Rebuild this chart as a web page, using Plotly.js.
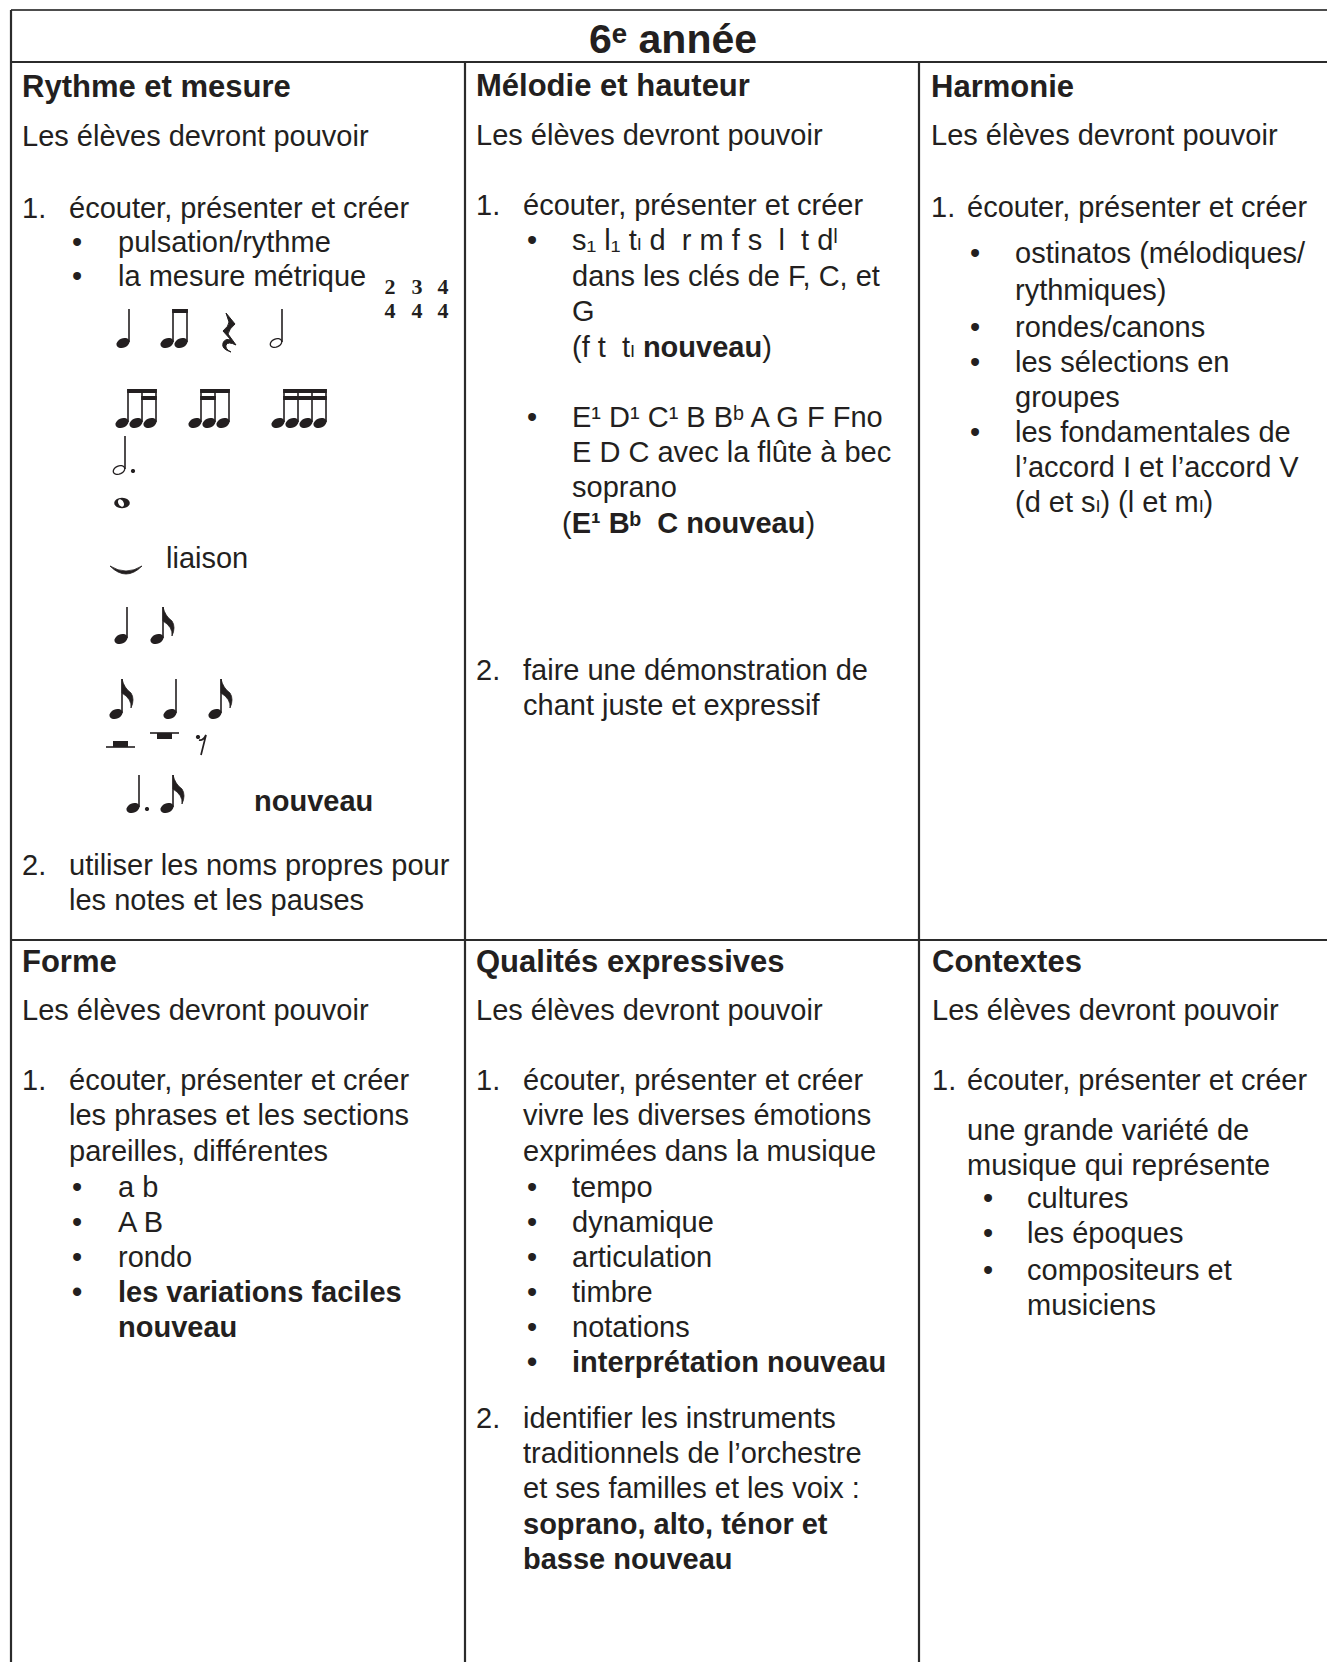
<!DOCTYPE html>
<html><head><meta charset="utf-8">
<script src="https://cdn.plot.ly/plotly-3.0.1.min.js"></script>
<style>html,body{margin:0;padding:0;background:#fff}</style>
</head><body>
<div id="chart" style="width:1327px;height:1662px"></div>
<script>
// ================= DATA (text content) =================
const pageTitle = "6ᵉ année";
const cellHeadings = ["Rythme et mesure", "Mélodie et hauteur", "Harmonie", "Forme", "Qualités expressives", "Contextes"];
const introLine = "Les élèves devront pouvoir";

// Rythme et mesure
const rmMarks = ["1.", "•", "•", "", "", "2.", ""];
const rmTexts = ["écouter, présenter et créer", "pulsation/rythme", "la mesure métrique", "liaison", "<b>nouveau</b>", "utiliser les noms propres pour", "les notes et les pauses"];
const timeSigTop = ["2", "3", "4"];
const timeSigBottom = ["4", "4", "4"];
// rhythm symbols (drawn as notation glyphs)
const rhythmRows = [
  ["noire", "2 croches", "soupir", "blanche"],
  ["croche + 2 doubles", "2 doubles + croche", "4 doubles"],
  ["blanche pointée"],
  ["ronde"],
  ["liaison"],
  ["noire", "croche"],
  ["croche", "noire", "croche"],
  ["demi-pause", "pause", "demi-soupir"],
  ["noire pointée", "croche"]
];

// Mélodie et hauteur
const mhMarks = ["1.", "•", "", "", "", "•", "", "", "", "2.", ""];
const mhTexts = [
  "écouter, présenter et créer",
  "s₁ l₁ tₗ d\u00a0\u00a0r m f s\u00a0\u00a0l\u00a0\u00a0t dˡ",
  "dans les clés de F, C, et",
  "G",
  "(f t\u00a0\u00a0tₗ <b>nouveau</b>)",
  "E¹ D¹ C¹ B Bᵇ A G F Fno",
  "E D C avec la flûte à bec",
  "soprano",
  "(<b>E¹ Bᵇ\u00a0\u00a0C nouveau</b>)",
  "faire une démonstration de",
  "chant juste et expressif"
];

// Harmonie
const haMarks = ["1.", "•", "", "•", "•", "", "•", "", ""];
const haTexts = ["écouter, présenter et créer", "ostinatos (mélodiques/", "rythmiques)", "rondes/canons", "les sélections en", "groupes", "les fondamentales de", "l’accord I et l’accord V", "(d et sₗ) (l et mₗ)"];

// Forme
const foMarks = ["1.", "", "", "•", "•", "•", "<b>•</b>", ""];
const foTexts = ["écouter, présenter et créer", "les phrases et les sections", "pareilles, différentes", "a b", "A B", "rondo", "<b>les variations faciles</b>", "<b>nouveau</b>"];

// Qualités expressives
const qeMarks = ["1.", "", "", "•", "•", "•", "•", "•", "<b>•</b>", "2.", "", "", "", ""];
const qeTexts = ["écouter, présenter et créer", "vivre les diverses émotions", "exprimées dans la musique", "tempo", "dynamique", "articulation", "timbre", "notations", "<b>interprétation nouveau</b>", "identifier les instruments", "traditionnels de l’orchestre", "et ses familles et les voix :", "<b>soprano, alto, ténor et</b>", "<b>basse nouveau</b>"];

// Contextes
const coMarks = ["1.", "", "", "•", "•", "•", ""];
const coTexts = ["écouter, présenter et créer", "une grande variété de", "musique qui représente", "cultures", "les époques", "compositeurs et", "musiciens"];

// ================= LAYOUT (positions, sizes, styles) =================
const W = 1327, H = 1662;
const INK = "#231f20";
const RULE = "#2b2b2b";
const SANS = "'Liberation Sans', Arial, Helvetica, 'DejaVu Sans', sans-serif";
const SERIF = "'Liberation Serif', 'Times New Roman', serif";
const BODY = 29, HEAD = 31, TITLE = 41, SIG = 22;
const MID = 0.25; // baseline offset (em) of 'middle' text position

const gridX = [11, 465, 919];
const gridY = {top: 10, titleBottom: 62, rowDivider: 940};

const headX = [22, 476, 931, 22, 476, 932];
const headBase = [97, 96, 97, 972, 972, 972];
const introBase = [146, 145, 145, 1020, 1020, 1020];

const rmMarkX = [22, 72, 72, 0, 0, 22, 0];
const rmTextX = [69, 118, 118, 166, 254, 69, 69];
const rmBase = [218, 252, 286, 568, 811, 875, 910];

const mhMarkX = [476, 527, 0, 0, 0, 527, 0, 0, 0, 476, 0];
const mhTextX = [523, 572, 572, 572, 572, 572, 572, 572, 562, 523, 523];
const mhBase = [215, 250, 286, 321, 357, 427, 462, 497, 533, 680, 715];

const haMarkX = [931, 970, 0, 970, 970, 0, 970, 0, 0];
const haTextX = [967, 1015, 1015, 1015, 1015, 1015, 1015, 1015, 1015];
const haBase = [217, 263, 300, 337, 372, 407, 442, 477, 512];

const foMarkX = [22, 0, 0, 72, 72, 72, 72, 0];
const foTextX = [69, 69, 69, 118, 118, 118, 118, 118];
const foBase = [1090, 1125, 1161, 1197, 1232, 1267, 1302, 1337];

const qeMarkX = [476, 0, 0, 527, 527, 527, 527, 527, 527, 476, 0, 0, 0, 0];
const qeTextX = [523, 523, 523, 572, 572, 572, 572, 572, 572, 523, 523, 523, 523, 523];
const qeBase = [1090, 1125, 1161, 1197, 1232, 1267, 1302, 1337, 1372, 1428, 1463, 1498, 1534, 1569];

const coMarkX = [932, 0, 0, 983, 983, 983, 0];
const coTextX = [967, 967, 967, 1027, 1027, 1027, 1027];
const coBase = [1090, 1140, 1175, 1208, 1243, 1280, 1315];

const sigX = [390, 417, 443];
const sigBase = [294, 318];

// ---------- text traces ----------
const plain = {x: [], y: [], text: []};
const bold = {x: [], y: [], text: []};
const fullBold = /^<b>([^<]*)<\/b>$/;
function put(t, x, base) {
  const m = t.match(fullBold);
  const tgt = m ? bold : plain;
  tgt.x.push(x); tgt.y.push(base - MID * BODY); tgt.text.push(m ? m[1] : t);
}
function addCell(marks, texts, markX, textX, base) {
  texts.forEach((t, i) => {
    put(t, textX[i], base[i]);
    if (marks[i]) put(marks[i], markX[i], base[i]);
  });
}
addCell(rmMarks, rmTexts, rmMarkX, rmTextX, rmBase);
addCell(mhMarks, mhTexts, mhMarkX, mhTextX, mhBase);
addCell(haMarks, haTexts, haMarkX, haTextX, haBase);
addCell(foMarks, foTexts, foMarkX, foTextX, foBase);
addCell(qeMarks, qeTexts, qeMarkX, qeTextX, qeBase);
addCell(coMarks, coTexts, coMarkX, coTextX, coBase);
cellHeadings.forEach((h, i) => put(introLine, headX[i], introBase[i]));

const common = {type: 'scatter', mode: 'text', hoverinfo: 'skip', cliponaxis: false};
const traces = [
  Object.assign({}, common, {x: plain.x, y: plain.y, text: plain.text, textposition: 'middle right',
   textfont: {family: SANS, size: BODY, color: INK}}),
  Object.assign({}, common, {x: bold.x, y: bold.y, text: bold.text, textposition: 'middle right',
   textfont: {family: SANS, size: BODY, color: INK, weight: 700}}),
  Object.assign({}, common, {x: headX, y: headBase.map(b => b - MID * HEAD), text: cellHeadings,
   textposition: 'middle right', textfont: {family: SANS, size: HEAD, color: INK, weight: 700}}),
  Object.assign({}, common, {x: [(gridX[0] + W) / 2 + 4], y: [53 - MID * TITLE], text: [pageTitle],
   textposition: 'middle center', textfont: {family: SANS, size: TITLE, color: INK, weight: 700}}),
  Object.assign({}, common, {x: sigX.concat(sigX),
   y: sigX.map(() => sigBase[0] - MID * SIG).concat(sigX.map(() => sigBase[1] - MID * SIG)),
   text: timeSigTop.concat(timeSigBottom), textposition: 'middle center',
   textfont: {family: SERIF, size: SIG, color: INK, weight: 700}})
];

// ---------- shapes: table rules ----------
const shapes = [];
function rule(x0, y0, x1, y1, w, c) {
  shapes.push({type: 'line', xref: 'x', yref: 'y', x0, y0, x1, y1, line: {color: c || RULE, width: w || 2}, layer: 'above'});
}
rule(gridX[0], gridY.top, W, gridY.top, 2, "#4d4d4d");
rule(gridX[0], gridY.titleBottom, W, gridY.titleBottom, 2.2);
rule(gridX[0], gridY.rowDivider, W, gridY.rowDivider, 2.2);
rule(gridX[0], gridY.top, gridX[0], H, 2.2);
rule(gridX[1], gridY.titleBottom, gridX[1], H, 2.2);
rule(gridX[2], gridY.titleBottom, gridX[2], H, 2.2);

// ---------- shapes: music notation glyphs ----------
function ink(x0, y0, x1, y1, w) {
  shapes.push({type: 'line', xref: 'x', yref: 'y', x0, y0, x1, y1, line: {color: INK, width: w}});
}
function path(d, fill, w) {
  shapes.push({type: 'path', xref: 'x', yref: 'y', path: d, fillcolor: fill, line: {color: INK, width: w || 0}});
}
function ellipseD(cx, cy, rx, ry, deg) {
  const a = deg * Math.PI / 180; let d = "";
  for (let k = 0; k < 24; k++) {
    const t = k / 24 * 2 * Math.PI;
    const px = cx + rx * Math.cos(t) * Math.cos(a) - ry * Math.sin(t) * Math.sin(a);
    const py = cy - (rx * Math.cos(t) * Math.sin(a) + ry * Math.sin(t) * Math.cos(a));
    d += (k ? " L" : "M") + px.toFixed(2) + "," + py.toFixed(2);
  }
  return d + " Z";
}
function rectD(x0, y0, x1, y1) { return `M${x0},${y0} L${x1},${y0} L${x1},${y1} L${x0},${y1} Z`; }
const SX = 6.0;
function filledHead(x, y) { path(ellipseD(x, y, 6.8, 4.7, 24), INK, 0); }
function hollowHead(x, y) { path(ellipseD(x, y, 6.0, 4.0, 24), "#ffffff", 1.3); }
function stemUp(x, y, top) { ink(x + SX, y - 1, x + SX, top, 1.6); }
function flag(x, top) {
  const s = x + SX;
  path(`M${s},${top} Q${s + 2},${top + 9} ${s + 9},${top + 14} Q${s + 13},${top + 20} ${s + 9},${top + 29} Q${s + 10},${top + 20} ${s},${top + 14} Z`, INK, 0.8);
}
function dot(x, y) { path(ellipseD(x, y, 2.1, 2.1, 0), INK, 0); }
function quarter(x, y, top) { filledHead(x, y); stemUp(x, y, top); }
function eighth(x, y, top) { quarter(x, y, top); flag(x, top); }
function half(x, y, top) { hollowHead(x, y); stemUp(x, y, top); }
function beamGroup(xs, y, top, second) {
  xs.forEach(x => quarter(x, y, top));
  path(rectD(xs[0] + SX - 0.8, top, xs[xs.length - 1] + SX + 0.8, top + 4), INK, 0);
  path(rectD(xs[second[0]] + SX - 0.8, top + 7, xs[second[1]] + SX + 0.8, top + 11), INK, 0);
}

// notation placement (one block per rhythm row)
const rowHeadY = [343, 423, 470, 503, 570, 639, 714, 740, 808];
const rowTopY = [309, 389, 436, 0, 0, 607, 679, 0, 775];

// row 0: noire, 2 croches, soupir, blanche
quarter(123, rowHeadY[0], rowTopY[0]);
quarter(167, rowHeadY[0], rowTopY[0]); quarter(181, rowHeadY[0], rowTopY[0]);
path(rectD(167 + SX - 0.8, rowTopY[0], 181 + SX + 0.8, rowTopY[0] + 4), INK, 0);
path("M226,313 L235,324 Q229,329 228,334 L236,345 Q228,341 226,345 Q225,349 231,352 Q221,349 223,343 Q225,338 231,340 L223,331 Q229,326 229,322 Z", INK, 1);
half(276, rowHeadY[0], rowTopY[0]);
// row 1: sixteenth groups
beamGroup([122, 136, 150], rowHeadY[1], rowTopY[1], [1, 2]);
beamGroup([195, 209, 223], rowHeadY[1], rowTopY[1], [0, 1]);
beamGroup([278, 292, 306, 320], rowHeadY[1], rowTopY[1], [0, 3]);
// row 2: blanche pointée
half(119, rowHeadY[2], rowTopY[2]); dot(133, rowHeadY[2] + 1);
// row 3: ronde
path(ellipseD(122, rowHeadY[3], 7.8, 5.2, 0), INK, 0);
path(ellipseD(121, rowHeadY[3], 4.0, 2.6, -60), "#ffffff", 0);
// row 4: liaison (tie)
path("M110,566 Q126,582 142,566 Q126,576 110,566 Z", INK, 0.8);
// row 5: noire, croche
quarter(121, rowHeadY[5], rowTopY[5]); eighth(157, rowHeadY[5], rowTopY[5]);
// row 6: croche, noire, croche
eighth(116, rowHeadY[6], rowTopY[6]); quarter(170, rowHeadY[6], rowTopY[6]); eighth(215, rowHeadY[6], rowTopY[6]);
// row 7: rests
ink(106, 747, 135, 747, 1.6); path(rectD(113, 741, 128, 747), INK, 0);
ink(150, 733, 179, 733, 1.6); path(rectD(157, 733, 172, 739), INK, 0);
dot(198, 737);
path("M199,740 Q203,741 206,735 L201,755", "rgba(0,0,0,0)", 1.7);
// row 8: noire pointée, croche
quarter(133, rowHeadY[8], rowTopY[8]); dot(147, rowHeadY[8] + 1);
eighth(167, rowHeadY[8], rowTopY[8]);

const layout = {
  width: W, height: H, margin: {l: 0, r: 0, t: 0, b: 0},
  paper_bgcolor: "#ffffff", plot_bgcolor: "#ffffff", showlegend: false,
  xaxis: {range: [0, W], visible: false, fixedrange: true},
  yaxis: {range: [H, 0], visible: false, fixedrange: true},
  shapes: shapes
};
Plotly.newPlot("chart", traces, layout, {staticPlot: true, displayModeBar: false});
</script>
</body></html>
